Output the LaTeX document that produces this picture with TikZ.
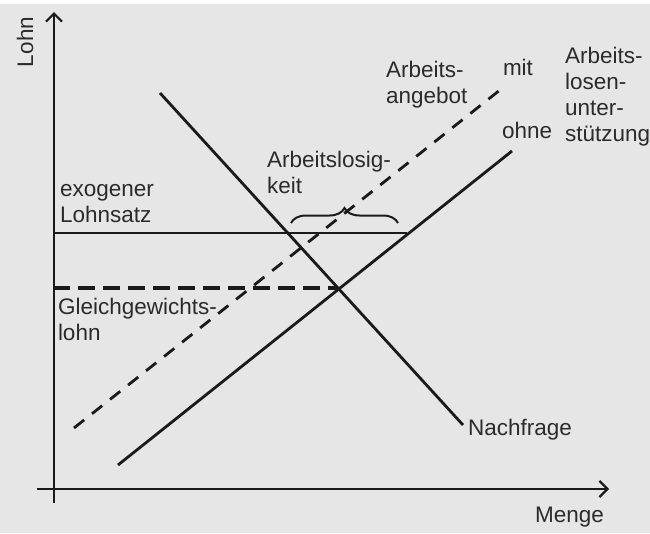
\documentclass[tikz,border=0pt]{standalone}
\usepackage{fontspec}
\setmainfont{Liberation Sans}
\usetikzlibrary{arrows.meta,decorations.pathreplacing}
\definecolor{bg}{HTML}{E6E6E6}
\definecolor{ink}{HTML}{1A1A1A}
\definecolor{txt}{HTML}{2B2B2B}
\begin{document}
\begin{tikzpicture}[x=1pt,y=-1pt,
  lbl/.style={inner sep=0pt,outer sep=0pt,text=txt,align=left,font=\fontsize{22.5}{25.8}\selectfont},
  axis/.style={draw=ink,line width=2.2pt,-{Straight Barb[length=8pt,width=16pt,line width=2.2pt]}},
  curve/.style={draw=ink,line width=2.8pt},
  dcurve/.style={draw=ink,line width=2.8pt,dash pattern=on 13pt off 10pt},
  hdash/.style={draw=ink,line width=3.6pt,dash pattern=on 17pt off 8pt}]
\fill[white] (0,0) rectangle (650,533);
\fill[bg] (0,4) rectangle (650,533);
\useasboundingbox (0,0) rectangle (650,533);
% axes
\coordinate (yb) at (54,503);
\coordinate (yt) at (54,12);
\coordinate (xl) at (37,489);
\coordinate (xr) at (609,489);
\draw[axis] (yb) -- (yt);
\draw[axis] (xl) -- (xr);
% curves
\coordinate (d1) at (160,93);
\coordinate (d2) at (463,425);
\coordinate (s1) at (118,465);
\coordinate (s2) at (512,151);
\coordinate (m1) at (74,428);
\coordinate (m2) at (505,86);
\coordinate (h1) at (53,233);
\coordinate (h2) at (407,233);
\coordinate (g1) at (53,288);
\coordinate (g2) at (338,288);
\draw[curve] (d1) -- (d2);
\draw[curve] (s1) -- (s2);
\draw[dcurve] (m1) -- (m2);
\draw[draw=ink,line width=2.2pt] (h1) -- (h2);
\draw[hdash] (g1) -- (g2);
% brace
\coordinate (b1) at (291,223);
\coordinate (b2) at (398,223);
\draw[draw=ink,line width=2pt,decorate,decoration={brace,amplitude=15pt,aspect=0.5}] (b1) -- (b2);
% labels (base = baseline of last line)
\node[lbl,rotate=90,anchor=base west] (lohn) at (33,67) {Lohn};
\node[lbl,anchor=base west] (menge) at (535,522) {Menge};
\node[lbl,anchor=base west] (nach) at (468,435) {Nachfrage};
\node[lbl,anchor=base west] (exo) at (60,222) {exogener\\Lohnsatz};
\node[lbl,anchor=base west] (gg) at (58,340) {Gleichgewichts-\\lohn};
\node[lbl,anchor=base west] (alo) at (267,193) {Arbeitslosig-\\keit};
\node[lbl,anchor=base west] (aa) at (386,103) {Arbeits-\\angebot};
\node[lbl,anchor=base west] (mit) at (503,75) {mit};
\node[lbl,anchor=base west] (ohne) at (502,138) {ohne};
\node[lbl,anchor=base west] (alu) at (565,141) {Arbeits-\\losen-\\unter-\\stützung};
\end{tikzpicture}
\end{document}
